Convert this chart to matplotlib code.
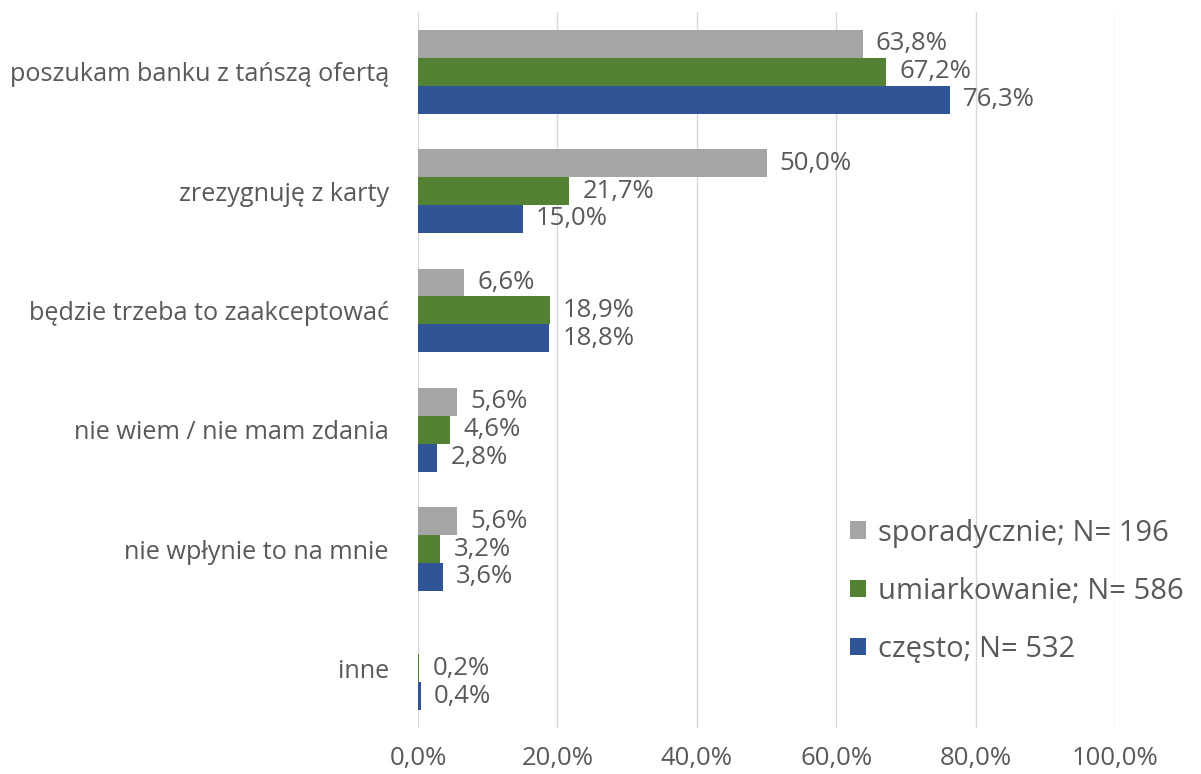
import matplotlib.pyplot as plt
import numpy as np

plt.rcParams['font.family'] = ['Open Sans', 'DejaVu Sans']

# dane
kategorie = ['poszukam banku z tańszą ofertą', 'zrezygnuję z karty',
             'będzie trzeba to zaakceptować', 'nie wiem / nie mam zdania',
             'nie wpłynie to na mnie', 'inne']
sporadycznie = [63.8, 50.0, 6.6, 5.6, 5.6, 0.0]
umiarkowanie = [67.2, 21.7, 18.9, 4.6, 3.2, 0.2]
czesto = [76.3, 15.0, 18.8, 2.8, 3.6, 0.4]
serie = ['sporadycznie; N= 196', 'umiarkowanie; N= 586', 'często; N= 532']
kolory = ['#A5A5A5', '#548235', '#2F5597']

tekst = '#595959'
fig = plt.figure(figsize=(12.01, 7.74), dpi=100)
ax = fig.add_axes([0.348, 0.0594, 0.5805, 0.925])

y = np.arange(len(kategorie))
h = 0.234
for i, (vals, nazwa, kol) in enumerate(zip([sporadycznie, umiarkowanie, czesto], serie, kolory)):
    pos = y + (i - 1) * h
    ax.barh(pos, vals, height=h, color=kol, label=nazwa, zorder=3)
    for p, v in zip(pos, vals):
        if v > 0:
            ax.text(v + 1.9, p, f'{v:.1f}%'.replace('.', ','), va='center', ha='left',
                    fontsize=18.5, color=tekst)

ax.set_xlim(0, 100)
ax.set_ylim(len(kategorie) - 0.5, -0.5)
ax.set_yticks(y)
ax.set_yticklabels(kategorie, fontsize=18.2, color=tekst)
ax.set_xticks(np.arange(0, 101, 20))
ax.set_xticklabels([f'{t:.1f}%'.replace('.', ',') for t in np.arange(0, 101, 20)],
                   fontsize=18.5, color=tekst)
ax.tick_params(axis='both', length=0)
ax.tick_params(axis='x', pad=13)
ax.tick_params(axis='y', pad=21)
ax.grid(axis='x', color='#D9D9D9', linewidth=1, zorder=0)
for s in ax.spines.values():
    s.set_visible(False)

fig.legend(loc='upper left', bbox_to_anchor=(0.708, 0.330), frameon=False, fontsize=21,
           labelcolor=tekst, handlelength=0.55, handleheight=0.55, handletextpad=0.4,
           labelspacing=1.0, borderpad=0, borderaxespad=0)

plt.savefig('out.png', dpi=100)
